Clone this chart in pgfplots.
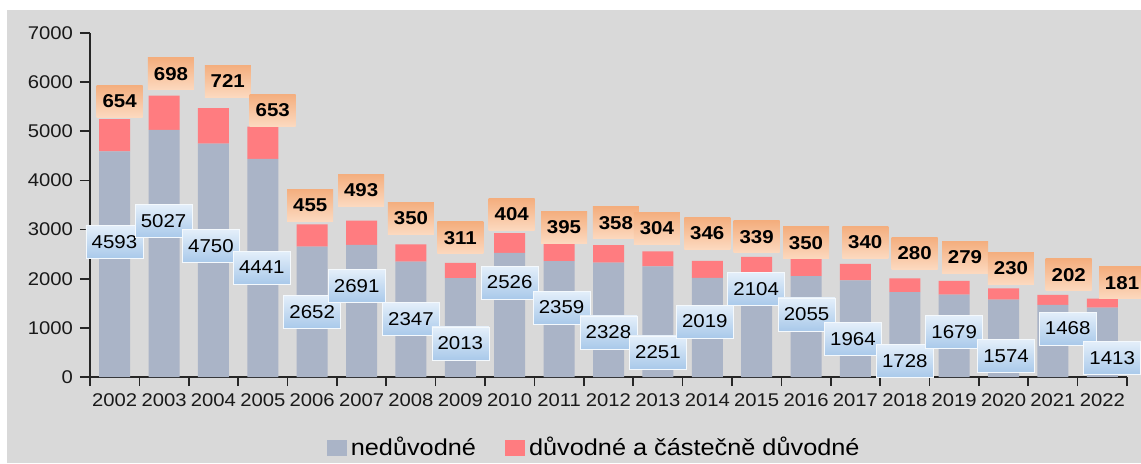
\documentclass[border=0pt]{standalone}
\usepackage{fontspec}
\setmainfont{Liberation Sans}[FakeStretch=1.1]
\usepackage{pgfplots}
\usepackage{pgfplotstable}
\pgfplotsset{compat=1.18}
\definecolor{bg}{HTML}{D9D9D9}
\definecolor{nedu}{HTML}{AAB4C7}
\definecolor{duvo}{HTML}{FF7C80}
\definecolor{bluetop}{HTML}{E4EFFA}
\definecolor{bluebot}{HTML}{A9C9EA}
\definecolor{ortop}{HTML}{F4AE7E}
\definecolor{orbot}{HTML}{FCD9BF}

\pgfplotstableread{
x bot top bx by tx ty
0 4593 654 -0.004 2747 0.10 5616
1 5027 698 0.99 3174 1.14 6166
2 4750 721 1.95 2666 2.29 6023
3 4441 653 2.98 2228 3.20 5433
4 2652 455 4.00 1329 3.96 3500
5 2691 493 4.90 1852 4.99 3805
6 2347 350 6.00 1180 6.00 3235
7 2013 311 7.00 682 7.00 2829
8 2526 404 8.00 1923 8.04 3307
9 2359 395 9.05 1414 9.10 3052
10 2328 358 10.00 906 10.15 3134
11 2251 304 11.00 499 10.98 3032
12 2019 346 11.95 1129 12.00 2930
13 2104 339 12.99 1791 13.00 2849
14 2055 350 14.01 1272 14.00 2727
15 1964 340 14.95 773 15.20 2747
16 1728 280 16.00 326 16.20 2523
17 1679 279 17.00 916 17.22 2442
18 1574 230 18.05 427 18.15 2218
19 1468 202 19.30 987 19.32 2076
20 1413 181 20.20 387 20.40 1913
}\data

\begin{document}
\begin{tikzpicture}
\useasboundingbox (-45pt,-43pt) rectangle (525.5pt,188.5pt);
\clip (-45pt,-43pt) rectangle (525.5pt,188.5pt);
\fill[white] (-45pt,-43pt) rectangle (525.5pt,188.5pt);
\fill[bg] (-41.5pt,-43pt) rectangle (525.5pt,183.5pt);
\begin{axis}[
  at={(0,0)}, anchor=south west,
  scale only axis, width=518.5pt, height=172pt,
  xmin=-0.5, xmax=20.5, ymin=0, ymax=7000,
  ybar stacked, bar width=15.5pt,
  axis x line=bottom, axis y line=left,
  axis line style={-, line width=0.9pt, black!85},
  tick style={line width=0.8pt, black!85},
  tick align=outside,
  xtick={0,...,20},
  xticklabels={2002,2003,2004,2005,2006,2007,2008,2009,2010,2011,2012,2013,2014,2015,2016,2017,2018,2019,2020,2021,2022},
  major x tick style={draw=none},
  minor xtick={-0.5,0.5,...,20.5},
  minor tick length=4.5pt,
  major tick length=5pt,
  ytick={0,1000,...,7000},
  /pgf/number format/assume math mode=true,
  /pgf/number format/set thousands separator={},
  tick label style={font=\fontsize{9.2}{10}\selectfont, text=black!90},
  legend style={draw=none, fill=none, at={(0.4872,-0.207)}, anchor=center,
    legend columns=2, font=\fontsize{11.5}{13}\selectfont,
    /tikz/every even column/.append style={column sep=12.5pt}},
  legend image code/.code={\fill[#1, overlay] (0pt,-4pt) rectangle (9pt,4pt); \path (0pt,-4pt) rectangle (10pt,4pt);},
]
\addplot[fill=nedu, draw=none] table[x=x, y=bot]{\data};
\addplot[fill=duvo, draw=none] table[x=x, y=top]{\data};
\legend{nedůvodné, důvodné a částečně důvodné}
\end{axis}
\begin{axis}[
  at={(0,0)}, anchor=south west,
  scale only axis, width=518.5pt, height=172pt,
  xmin=-0.5, xmax=20.5, ymin=0, ymax=7000,
  hide axis, clip=false,
]
\addplot[only marks, mark=none, nodes near coords, point meta=explicit symbolic,
  nodes near coords style={anchor=center, rectangle, inner sep=0pt,
    minimum width=28.5pt, minimum height=16.5pt,
    top color=bluetop, bottom color=bluebot, draw=white!60!bluetop, line width=0.3pt,
    font=\fontsize{9.3}{10}\selectfont, text=black}]
  table[x=bx, y=by, meta=bot]{\data};
\addplot[only marks, mark=none, nodes near coords, point meta=explicit symbolic,
  nodes near coords style={anchor=center, rectangle, inner sep=0pt,
    minimum width=23pt, minimum height=16pt,
    top color=ortop, bottom color=orbot, draw=none,
    font=\fontsize{9.3}{10}\selectfont\bfseries, text=black}]
  table[x=tx, y=ty, meta=top]{\data};
\end{axis}
\end{tikzpicture}
\end{document}
